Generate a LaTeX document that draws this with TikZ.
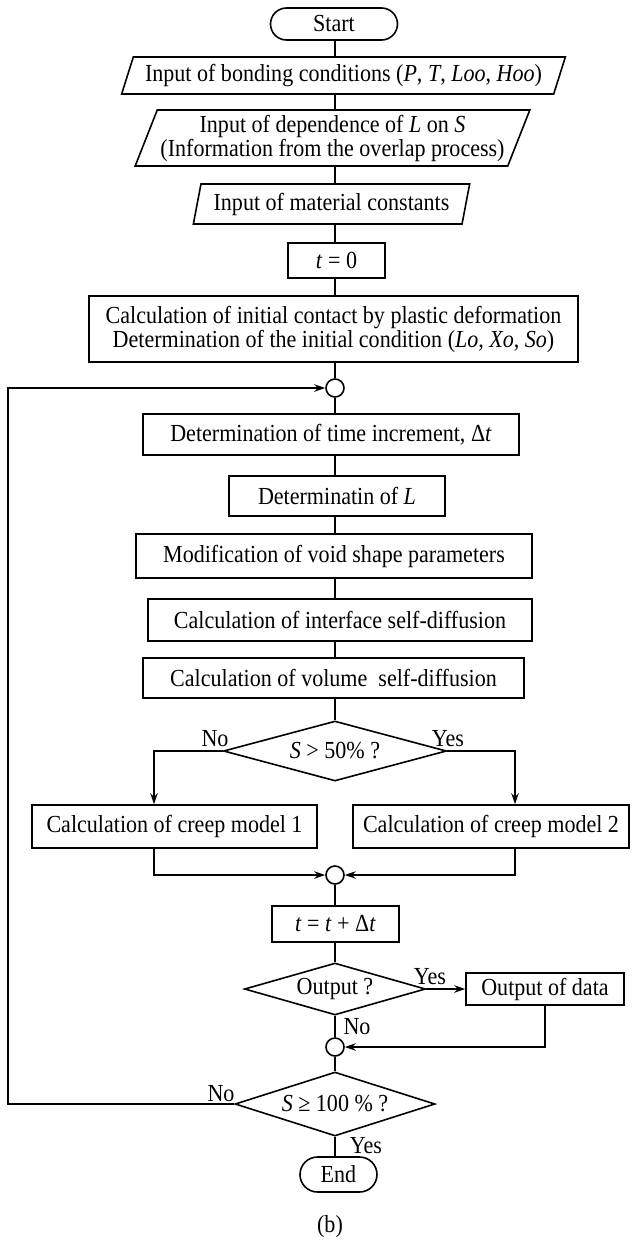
\documentclass[tikz,border=0pt]{standalone}
\usepackage{fontspec}
\setmainfont[FakeStretch=0.9]{Liberation Serif}
\usetikzlibrary{shapes.geometric,shapes.misc,arrows.meta}
\begin{document}
\begin{tikzpicture}[x=1pt,y=-1pt,
  every node/.style={font=\fontsize{24.5}{24}\selectfont, inner sep=0pt},
  proc/.style={draw, rectangle, line width=1.6pt, align=center},
  io/.style={draw, trapezium, trapezium stretches=true, line width=1.6pt, align=center},
  term/.style={draw, rounded rectangle, line width=1.6pt},
  decide/.style={draw, diamond, line width=1.6pt},
  junct/.style={draw, circle, minimum size=18pt, line width=1.6pt},
  link/.style={line width=1.4pt},
  arr/.style={link, -{Stealth[length=11pt,width=7.5pt]}}]
\useasboundingbox (0,0) rectangle (632,1240);

% reference x positions for the trunk, the side branches and the loop
\coordinate (ax) at (335,0);
\coordinate (jl) at (154,0);
\coordinate (jr) at (515,0);
\coordinate (lx) at (8,0);

% main column
\node[term, minimum width=127pt, minimum height=32pt] (start) at (334,24) {Start};
\node[io, trapezium left angle=64, trapezium right angle=116,
      minimum width=445pt, minimum height=37pt] (bond) at (343.5,75.5)
  {Input of bonding conditions (\textit{P}, \textit{T}, \textit{Loo}, \textit{Hoo})};
\node[io, trapezium left angle=65, trapezium right angle=115,
      minimum width=395pt, minimum height=56pt] (dep) at (332.5,138)
  {Input of dependence of \textit{L} on \textit{S}\\(Information from the overlap process)};
\node[io, trapezium left angle=73, trapezium right angle=107,
      minimum width=277pt, minimum height=40pt] (mat) at (331.5,204)
  {Input of material constants};
\node[proc, minimum width=97pt, minimum height=35pt] (t0) at (336.5,260.5) {\textit{t} = 0};
\node[proc, minimum width=489pt, minimum height=66pt] (calc) at (333.5,329)
  {Calculation of initial contact by plastic deformation\\Determination of the initial condition (\textit{Lo}, \textit{Xo}, \textit{So})};
\node[junct] (c1) at (335,388) {};
\node[proc, minimum width=376pt, minimum height=41pt] (dt) at (331,434.5)
  {Determination of time increment, Δ\textit{t}};
\node[proc, minimum width=216pt, minimum height=40pt] (detL) at (337,496)
  {Determinatin of \textit{L}};
\node[proc, minimum width=396pt, minimum height=44pt] (mod) at (334,556)
  {Modification of void shape parameters};
\node[proc, minimum width=384pt, minimum height=42pt] (intf) at (340,620)
  {Calculation of interface self-diffusion};
\node[proc, minimum width=381pt, minimum height=40pt] (vol) at (333.5,678)
  {Calculation of volume~~self-diffusion};
\node[decide, aspect=3.7, minimum width=223pt, minimum height=60pt] (d50) at (335,751)
  {\textit{S} > 50\% ?};
\node[proc, minimum width=285pt, minimum height=43pt] (cr1) at (174.5,826.5)
  {Calculation of creep model 1};
\node[proc, minimum width=276pt, minimum height=43pt] (cr2) at (491,826.5)
  {Calculation of creep model 2};
\node[junct] (c2) at (335,875) {};
\node[proc, minimum width=127pt, minimum height=36pt] (tinc) at (335.5,924)
  {\textit{t} = \textit{t} + Δ\textit{t}};
\node[decide, aspect=3.5, minimum width=181pt, minimum height=52pt] (dout) at (335,989)
  {Output ?};
\node[proc, minimum width=158pt, minimum height=32pt] (outd) at (545,989)
  {Output of data};
\node[junct] (c3) at (335,1047) {};
\node[decide, aspect=3.1, minimum width=200pt, minimum height=64pt] (d100) at (335,1104)
  {\textit{S} ≥ 100 \% ?};
\node[term, minimum width=77pt, minimum height=35pt] (end) at (338.5,1174.5) {End};

% branch labels
\node (no1) at (215,739) {No};
\node (yes1) at (448,739) {Yes};
\node (yes2) at (430,977) {Yes};
\node (no2) at (357,1027) {No};
\node (no3) at (221,1094) {No};
\node (yes3) at (366,1146) {Yes};
\node (cap) at (330,1227) {(b)};

% trunk connectors
\draw[link] (start.south -| ax) -- (bond.north -| ax);
\draw[link] (bond.south -| ax) -- (dep.north -| ax);
\draw[link] (dep.south -| ax) -- (mat.north -| ax);
\draw[link] (mat.south -| ax) -- (t0.north -| ax);
\draw[link] (t0.south -| ax) -- (calc.north -| ax);
\draw[link] (calc.south -| ax) -- (c1.north);
\draw[link] (c1.south) -- (dt.north -| ax);
\draw[link] (dt.south -| ax) -- (detL.north -| ax);
\draw[link] (detL.south -| ax) -- (mod.north -| ax);
\draw[link] (mod.south -| ax) -- (intf.north -| ax);
\draw[link] (intf.south -| ax) -- (vol.north -| ax);
\draw[link] (vol.south -| ax) -- (d50.north);
\draw[link] (c2.south) -- (tinc.north -| ax);
\draw[link] (tinc.south -| ax) -- (dout.north);
\draw[link] (dout.south) -- (c3.north);
\draw[link] (c3.south) -- (d100.north);
\draw[link] (d100.south) -- (end.north -| ax);

% decision branches and merges
\draw[arr] (d50.west) -| (jl |- cr1.north);
\draw[arr] (d50.east) -| (jr |- cr2.north);
\draw[arr] (cr1.south -| jl) |- (c2.west);
\draw[arr] (cr2.south -| jr) |- (c2.east);
\draw[arr] (dout.east) -- (outd.west);
\draw[arr] (outd.south) |- (c3.east);

% loop back to the top of the iteration
\draw[arr] (d100.west) -- (lx |- d100.west) |- (c1.west);
\end{tikzpicture}
\end{document}
